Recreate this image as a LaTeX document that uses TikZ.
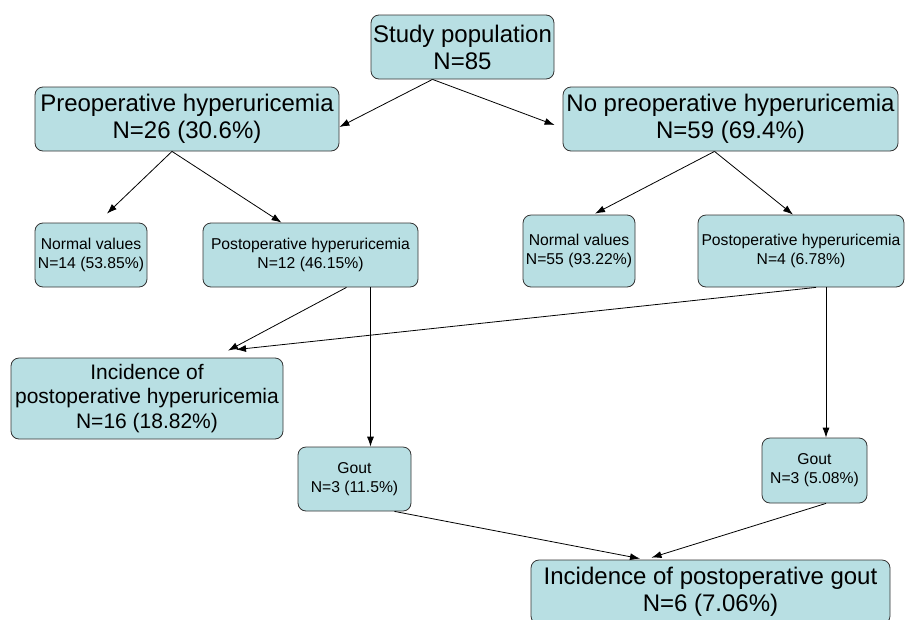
\documentclass[tikz,border=0pt]{standalone}
\usepackage{fontspec}
\setmainfont{Liberation Sans}
\usetikzlibrary{arrows.meta}
\definecolor{boxfill}{RGB}{184,223,227}

\begin{document}
\begin{tikzpicture}[x=1pt,y=-1pt,
  box/.style={draw=black!80, line width=0.8pt, fill=boxfill, rounded corners=8pt, align=center, inner sep=0pt},
  big/.style={box, font=\fontsize{24}{27}\selectfont},
  small/.style={box, font=\fontsize{15.7}{19}\selectfont},
  arr/.style={-{Latex[length=10pt,width=7pt]}, line width=0.8pt}]
  \clip (0,0) rectangle (905,619);
  % top levels
  \node[big, minimum width=183pt, minimum height=64pt] (study) at (462.5,47) {Study population\\N=85};
  \node[big, minimum width=304pt, minimum height=64pt] (pre) at (187,119) {Preoperative hyperuricemia\\N=26 (30.6\%)};
  \node[big, minimum width=335pt, minimum height=64pt] (nopre) at (730.5,119) {No preoperative hyperuricemia\\N=59 (69.4\%)};
  % second level
  \node[small, minimum width=112pt, minimum height=64pt] (normL) at (91,255) {Normal values\\N=14 (53.85\%)};
  \node[small, minimum width=215pt, minimum height=64pt] (postL) at (310.5,255) {Postoperative hyperuricemia\\N=12 (46.15\%)};
  \node[small, minimum width=112pt, minimum height=72pt] (normR) at (579,251) {Normal values\\N=55 (93.22\%)};
  \node[small, minimum width=206pt, minimum height=72pt] (postR) at (801,251) {Postoperative hyperuricemia\\N=4 (6.78\%)};
  % outcomes
  \node[box, font=\fontsize{21}{24.5}\selectfont, minimum width=272pt, minimum height=81pt] (incH) at (147,398.5) {Incidence of\\postoperative hyperuricemia\\N=16 (18.82\%)};
  \node[small, minimum width=113pt, minimum height=64pt] (goutL) at (354.5,479) {Gout\\N=3 (11.5\%)};
  \node[small, minimum width=105pt, minimum height=65pt] (goutR) at (814.5,470.5) {Gout\\N=3 (5.08\%)};
  \node[big, minimum width=359pt, minimum height=64pt] (incG) at (710.5,592) {Incidence of postoperative gout\\N=6 (7.06\%)};

  \draw[arr] ([xshift=-30pt]study.south) -- ([yshift=-8pt]pre.east);
  \draw[arr] ([xshift=-30pt]study.south) -- ([xshift=-8pt,yshift=-6pt]nopre.west);
  \draw[arr] ([xshift=-15pt]pre.south) -- ([xshift=16pt,yshift=9pt]normL.north);
  \draw[arr] ([xshift=-15pt]pre.south) -- ([xshift=-29pt]postL.north);
  \draw[arr] ([xshift=-16pt]nopre.south) -- ([xshift=16pt,yshift=1pt]normR.north);
  \draw[arr] ([xshift=-16pt]nopre.south) -- ([xshift=-8pt]postR.north);
  \draw[arr] ([xshift=36pt]postL.south) -- ([xshift=81pt,yshift=7pt]incH.north);
  \draw[arr] ([xshift=15pt]postR.south) -- ([xshift=89pt,yshift=8pt]incH.north);
  \draw[arr] ([xshift=60pt]postL.south) -- ([xshift=16pt]goutL.north);
  \draw[arr] ([xshift=25pt]postR.south) -- ([xshift=11.5pt]goutR.north);
  \draw[arr] ([xshift=40pt]goutL.south) -- ([xshift=-70.5pt,yshift=1pt]incG.north);
  \draw[arr] ([xshift=11.5pt]goutR.south) -- ([xshift=-59pt,yshift=2pt]incG.north);
\end{tikzpicture}
\end{document}
